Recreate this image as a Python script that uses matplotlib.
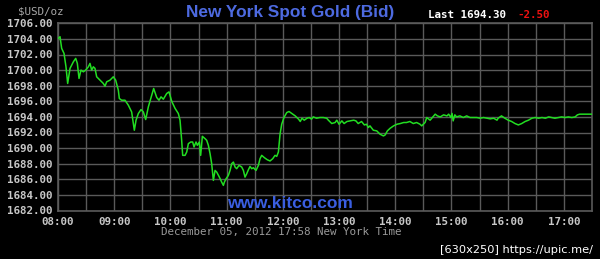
import matplotlib
matplotlib.use("Agg")
import matplotlib.pyplot as plt

# time of day (hours) and bid price
hours = [8.006, 8.036, 8.065, 8.107, 8.142, 8.172, 8.214, 8.273, 8.315, 8.344,
         8.374, 8.409, 8.451, 8.492, 8.540, 8.569, 8.599, 8.629, 8.658, 8.688,
         8.747, 8.806, 8.836, 8.866, 8.925, 8.984, 9.026, 9.073, 9.091, 9.132,
         9.192, 9.251, 9.310, 9.358, 9.388, 9.429, 9.477, 9.518, 9.560, 9.607,
         9.667, 9.702, 9.756, 9.797, 9.833, 9.874, 9.934, 9.975, 10.023, 10.082,
         10.141, 10.171, 10.200, 10.218, 10.260, 10.290, 10.319, 10.361, 10.396, 10.420,
         10.455, 10.479, 10.514, 10.538, 10.568, 10.616, 10.645, 10.675, 10.705, 10.734,
         10.764, 10.794, 10.823, 10.871, 10.912, 10.942, 10.960, 10.990, 11.031, 11.061,
         11.090, 11.120, 11.150, 11.179, 11.221, 11.268, 11.298, 11.327, 11.357, 11.387,
         11.416, 11.446, 11.476, 11.523, 11.565, 11.594, 11.624, 11.672, 11.725, 11.772,
         11.820, 11.861, 11.891, 11.921, 11.95, 11.98, 12.02, 12.07, 12.11, 12.16,
         12.22, 12.28, 12.31, 12.34, 12.38, 12.43, 12.47, 12.51, 12.54, 12.60,
         12.66, 12.72, 12.78, 12.81, 12.87, 12.93, 12.96, 13.00, 13.05, 13.09,
         13.14, 13.20, 13.26, 13.30, 13.34, 13.40, 13.45, 13.49, 13.52, 13.55,
         13.61, 13.67, 13.73, 13.79, 13.82, 13.86, 13.91, 13.97, 14.03, 14.09,
         14.15, 14.20, 14.26, 14.32, 14.38, 14.44, 14.47, 14.50, 14.53, 14.56,
         14.62, 14.67, 14.71, 14.75, 14.80, 14.86, 14.92, 14.95, 14.99, 15.01,
         15.03, 15.06, 15.09, 15.15, 15.21, 15.27, 15.33, 15.39, 15.45, 15.51,
         15.57, 15.63, 15.69, 15.75, 15.81, 15.83, 15.89, 15.95, 16.01, 16.07,
         16.13, 16.19, 16.25, 16.31, 16.37, 16.43, 16.49, 16.55, 16.61, 16.67,
         16.73, 16.78, 16.84, 16.90, 16.96, 17.02, 17.08, 17.14, 17.20, 17.24,
         17.28, 17.34, 17.40, 17.46, 17.49]
prices = [1704.07, 1704.28, 1702.79, 1702.14, 1700.42, 1698.29, 1700.22, 1701.06, 1701.50, 1700.86,
          1698.93, 1700.00, 1699.78, 1700.00, 1700.42, 1700.86, 1700.00, 1700.42, 1700.22, 1699.14,
          1698.71, 1698.29, 1697.94, 1698.50, 1698.71, 1699.14, 1698.71, 1697.43, 1696.36, 1696.14,
          1696.14, 1695.50, 1694.64, 1692.29, 1693.57, 1694.43, 1694.94, 1694.64, 1693.66, 1695.28,
          1696.78, 1697.64, 1696.49, 1696.14, 1696.57, 1696.27, 1697.00, 1697.21, 1696.00, 1695.10,
          1694.43, 1693.57, 1691.00, 1689.07, 1689.07, 1689.50, 1690.57, 1690.78, 1690.78, 1690.14,
          1690.78, 1690.36, 1690.78, 1689.07, 1691.51, 1691.21, 1691.00, 1690.36, 1689.29, 1688.00,
          1685.86, 1687.14, 1686.93, 1686.28, 1685.64, 1685.22, 1685.64, 1686.07, 1686.50, 1687.14,
          1688.00, 1688.21, 1687.57, 1687.36, 1687.79, 1687.57, 1687.14, 1686.28, 1686.71, 1687.22,
          1687.65, 1687.36, 1687.48, 1687.14, 1687.79, 1688.64, 1689.07, 1688.77, 1688.50, 1688.35,
          1688.64, 1689.07, 1688.94, 1689.50, 1691.78, 1693.06, 1693.92, 1694.56, 1694.69, 1694.44,
          1694.13, 1693.71, 1693.41, 1693.83, 1693.58, 1693.83, 1693.92, 1693.71, 1694.00, 1693.83,
          1693.92, 1693.92, 1693.83, 1693.58, 1693.15, 1693.28, 1693.58, 1693.06, 1693.49, 1693.15,
          1693.41, 1693.49, 1693.58, 1693.49, 1693.15, 1693.41, 1692.97, 1693.06, 1692.64, 1692.85,
          1692.29, 1692.21, 1691.78, 1691.56, 1691.69, 1692.21, 1692.55, 1692.85, 1693.06, 1693.15,
          1693.28, 1693.28, 1693.41, 1693.15, 1693.28, 1693.06, 1692.85, 1693.06, 1693.28, 1693.92,
          1693.58, 1694.00, 1694.35, 1694.13, 1694.00, 1694.26, 1694.13, 1694.35, 1693.92, 1694.44,
          1693.49, 1694.26, 1694.00, 1694.13, 1693.92, 1694.13, 1693.92, 1693.92, 1693.92, 1693.83,
          1693.92, 1693.83, 1693.75, 1693.83, 1693.58, 1693.83, 1694.13, 1693.83, 1693.58, 1693.41,
          1693.15, 1692.97, 1693.15, 1693.41, 1693.58, 1693.83, 1693.92, 1693.83, 1693.92, 1693.83,
          1694.00, 1693.92, 1693.83, 1693.92, 1694.00, 1693.92, 1694.00, 1693.92, 1694.00, 1694.26,
          1694.35, 1694.35, 1694.35, 1694.35, 1694.35]

yticks = [1682 + 2 * i for i in range(13)]
xticks = list(range(8, 18))
xtick_labels = ["%02d:00" % h for h in xticks]
last_price = "1694.30"
change = "-2.50"

mono = "DejaVu Sans Mono"
grey_txt = "#c8c8c8"

fig = plt.figure(figsize=(6.0, 2.59), dpi=100, facecolor="black")
ax = fig.add_axes([58 / 600, 48.5 / 259, 534 / 600, 187.2 / 259], facecolor="black")

ax.plot(hours, prices, color="#22dd22", lw=1.1, zorder=3)

ax.set_xlim(8, 17.5)
ax.set_ylim(1682, 1706)
ax.set_yticks(yticks)
ax.set_yticklabels(["%.2f" % v for v in yticks], family=mono, weight="bold",
                   fontsize=7.8, color=grey_txt)
ax.set_xticks(xticks)
ax.set_xticklabels(xtick_labels, family=mono, weight="bold", fontsize=7.8, color=grey_txt)
ax.set_xticks([h + 0.5 for h in xticks[:-1]], minor=True)
ax.tick_params(which="both", length=0)
ax.tick_params(axis="y", pad=4)
ax.tick_params(axis="x", pad=5)
ax.grid(True, which="both", color="#5a5a5a", lw=1)
for s in ax.spines.values():
    s.set_color("#5a5a5a")
    s.set_linewidth(1.2)

fig.text(290 / 600, 1 - 12 / 259, "New York Spot Gold (Bid)", ha="center", va="center",
         family="Liberation Sans", weight="bold", fontsize=12.4, color="#4d6ae0")
fig.text(18 / 600, 1 - 11 / 259, "$USD/oz", ha="left", va="center",
         family=mono, fontsize=7.8, color="#a8a8a8")
fig.text(428 / 600, 1 - 15.5 / 259, "Last " + last_price, ha="left", va="center",
         family=mono, weight="bold", fontsize=7.8, color="white")
fig.text(517 / 600, 1 - 15.5 / 259, change, ha="left", va="center",
         family=mono, weight="bold", fontsize=7.8, color="#ee1111")
fig.text(290 / 600, 1 - 204 / 259, "www.kitco.com", ha="center", va="center",
         family="Liberation Sans", weight="bold", fontsize=12.5, color="#3a5ee0")
fig.text(281 / 600, 1 - 232 / 259, "December 05, 2012 17:58 New York Time", ha="center",
         va="center", family=mono, fontsize=7.8, color="#9a9a9a")
fig.text(593 / 600, 1 - 250 / 259, "[630x250] https://upic.me/", ha="right", va="center",
         family="DejaVu Sans", fontsize=8.2, color="white")

fig.savefig("out.png", dpi=100, facecolor="black")
